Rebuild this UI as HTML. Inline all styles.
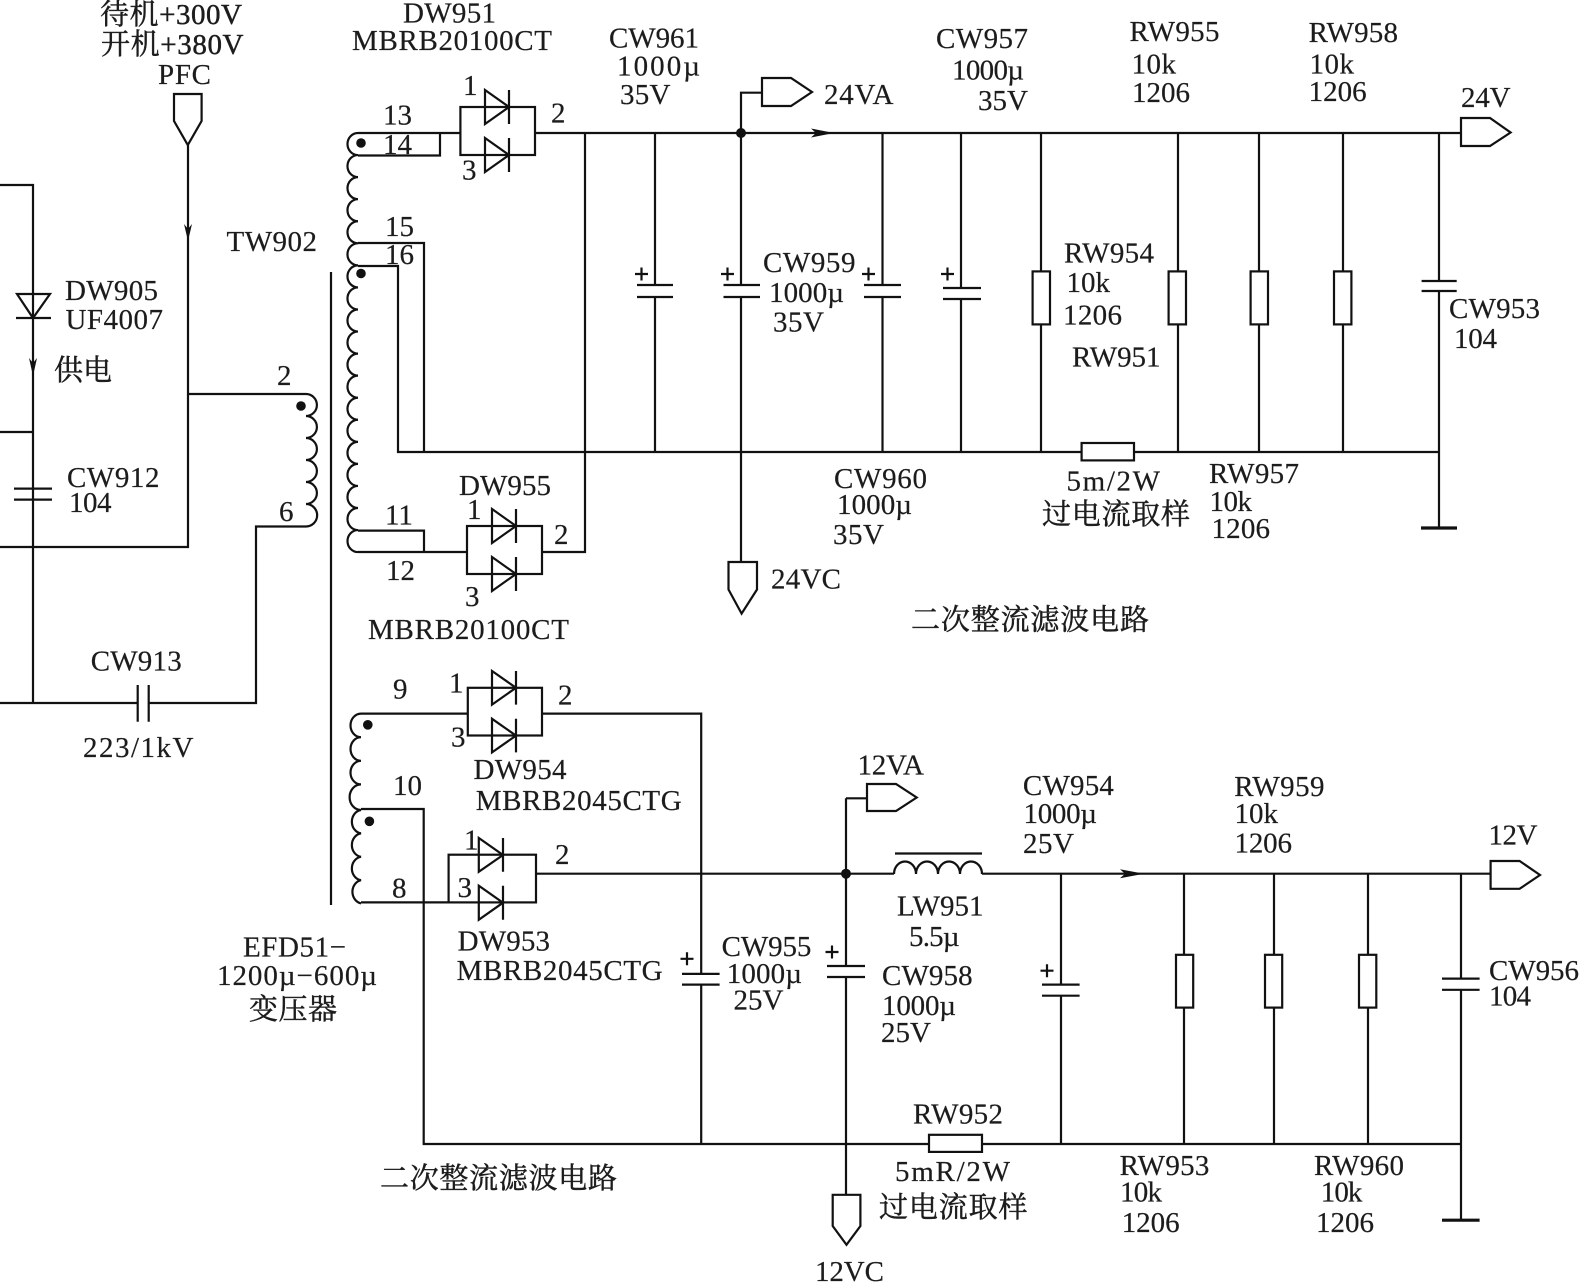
<!DOCTYPE html>
<html><head><meta charset="utf-8"><style>
html,body{margin:0;padding:0;background:#fff}
svg{display:block}
text{font-family:"Liberation Serif","Noto Serif CJK SC",serif;font-size:29px;fill:#1c1c1c;stroke:#1c1c1c;stroke-width:.2}
.c{stroke-width:.45}
path,line,rect,polyline,polygon.o{fill:none;stroke:#111;stroke-width:2.2}
polygon.f,circle{fill:#111;stroke:none}
</style></head><body>
<svg width="1580" height="1283" viewBox="0 0 1580 1283" xmlns="http://www.w3.org/2000/svg">
<rect x="0" y="0" width="1580" height="1283" style="fill:#fff;stroke:none"/>
<!-- left / primary -->
<path d="M0 185H33V703M0 432H33M0 547H188V145M188 394H306M0 703H137.700M148.700 703H256V526.500H306"/>
<polygon class="o" points="174,94 201.600,94 201.600,121 187.800,145 174,121"/>
<polygon class="f" points="188,241 184,224 188,229 192,224"/>
<polygon class="f" points="33,376 29,358 33,363 37,358"/>
<path d="M17 294H50L33 318ZM16 318H51"/>
<path d="M14 488.600H52M14 499.600H52"/>
<path d="M137.700 685V721.700M148.700 685V721.700"/>
<path d="M306 394a10.900 11 0 0 1 0 22a10.900 11 0 0 1 0 22a10.900 11 0 0 1 0 22a10.900 11 0 0 1 0 22a10.900 11 0 0 1 0 22a10.900 11 0 0 1 0 22.500"/>
<circle cx="301" cy="406" r="4.800"/>
<line x1="331" y1="272" x2="331" y2="905"/>
<!-- upper secondary -->
<path d="M358 133a10.500 11 0 0 0 0 22.060a10.500 11 0 0 0 0 22.060a10.500 11 0 0 0 0 22.060a10.500 11 0 0 0 0 22.060a10.500 11 0 0 0 0 22.060a10.500 11 0 0 0 0 22.060a10.500 11 0 0 0 0 22.060a10.500 11 0 0 0 0 22.060a10.500 11 0 0 0 0 22.060a10.500 11 0 0 0 0 22.060a10.500 11 0 0 0 0 22.060a10.500 11 0 0 0 0 22.060a10.500 11 0 0 0 0 22.060a10.500 11 0 0 0 0 22.060a10.500 11 0 0 0 0 22.060a10.500 11 0 0 0 0 22.060a10.500 11 0 0 0 0 22.060a10.500 11 0 0 0 0 22.060a10.500 11 0 0 0 0 22"/>
<circle cx="361" cy="143" r="4.800"/><circle cx="361" cy="273.500" r="4.800"/>
<path d="M358 133H460.400M358 155.500H440V133M358 243H424V452M358 266H398V452H1081.600M1134 452H1439M358 530.600H424V552M358 552H467"/>
<rect x="460.400" y="107" width="74.600" height="48"/>
<path d="M485 90V124L509 107ZM509 90V124M485 138V172L509 155ZM509 138V172"/>
<rect x="467" y="526" width="75" height="48"/>
<path d="M492 509V543L516 526ZM516 509V543M492 557V591L516 574ZM516 557V591"/>
<path d="M535 133H1461M585 133V552H542"/>
<circle cx="741" cy="133" r="5"/>
<polygon class="f" points="834,133 811,128.500 816,133 811,137.500"/>
<path d="M762 92.700H741V285M741 297V562"/>
<polygon class="o" points="762,78 791,78 812,92 791,106 762,106"/>
<polygon class="o" points="728.500,562 757,562 757,589.500 741.600,613.600 728.500,589.500"/>
<polygon class="o" points="1461,118 1490,118 1510.600,132.500 1490,146 1461,146"/>
<!-- upper caps: wires with gaps -->
<path d="M655 133V285M655 297V452M637 285H673M637 297H673M723.500 285H760M723.500 297H760M882.500 133V285M882.500 297V452M864 285H901M864 297H901M961 133V288M961 299V452M943 288H981M943 299H981"/>
<path d="M635 274h13M641.500 267.500v13M721 274h13M727.500 267.500v13M862 274h13M868.500 267.500v13M941 274h13M947.500 267.500v13"/>
<path d="M1041 133V271.400M1041 324.500V452M1178 133V271.400M1178 324.500V452M1259 133V271.400M1259 324.500V452M1343 133V271.400M1343 324.500V452"/>
<rect x="1032.600" y="271.400" width="17.400" height="53"/>
<rect x="1168.600" y="271.400" width="17.400" height="53"/>
<rect x="1250.600" y="271.400" width="17.400" height="53"/>
<rect x="1334" y="271.400" width="17.400" height="53"/>
<rect x="1081.600" y="443" width="52.400" height="17.400"/>
<path d="M1439 133V281M1439 291V528M1421.600 281H1456.700M1421.600 291H1456.700"/>
<path d="M1421 528H1457" style="stroke-width:3.200"/>
<!-- lower secondary -->
<path d="M361 713.600a10.500 11.800 0 0 0 0 23.600a10.500 11.800 0 0 0 0 23.600a10.500 11.800 0 0 0 0 23.600a10.500 11.800 0 0 0 0 25.600a10.500 11.800 0 0 0 0 23.400a10.500 11.800 0 0 0 0 23.400a10.500 11.800 0 0 0 0 23.400a10.500 11.800 0 0 0 0 23.200"/>
<circle cx="367.800" cy="724.800" r="4.800"/><circle cx="369.400" cy="821.300" r="4.800"/>
<path d="M361 713.600H467.800M361 809H423.700V1144H929M361 902.400H448.600M542 713.600H701.200V973.900M701.200 984.600V1144"/>
<rect x="467.800" y="687.800" width="74.200" height="47.700"/>
<path d="M492 671V704.600L516 687.800ZM516 671V704.600M492 718.800V752.400L516 735.600ZM516 718.800V752.400"/>
<rect x="448.600" y="854.700" width="87.400" height="47.700"/>
<path d="M478.800 838V871.800L503 855ZM503 838V871.800M478.800 885.700V919.800L503 902.700ZM503 885.700V919.800"/>
<path d="M536 873.700H894"/>
<circle cx="846" cy="873.700" r="5"/>
<path d="M846 798.300V966M846 977V1194.800M846 798.300H867"/>
<polygon class="o" points="867,784 896,784 916.700,797.500 896,811 867,811"/>
<polygon class="o" points="832.700,1194.800 860.400,1194.800 860.400,1226 846.500,1244.800 832.700,1226"/>
<path d="M894 874a11 12.500 0 0 1 22 0a11 12.500 0 0 1 22 0a11 12.500 0 0 1 22 0a11 12.500 0 0 1 22 0"/>
<path d="M895 853.500H982"/>
<path d="M982 873.700H1490.600"/>
<polygon class="f" points="1144,873.700 1120,869.200 1125,873.700 1120,878.200"/>
<polygon class="o" points="1490.600,861 1519.600,861 1540,875 1519.600,888.800 1490.600,888.800"/>
<path d="M682 973.900H719.600M682 984.600H719.600M827 966H865M827 977H865"/>
<path d="M680.500 958.800h13M687 952.300v13M825.500 952h13M832 945.500v13M1040.500 970.700h13M1047 964.200v13"/>
<path d="M1061 873.700V984.600M1061 995.700V1144M1042 984.600H1079.600M1042 995.700H1079.600"/>
<path d="M1184 873.700V954.800M1184 1007.600V1144M1274 873.700V954.800M1274 1007.600V1144M1368 873.700V954.800M1368 1007.600V1144"/>
<rect x="1176" y="954.800" width="17.200" height="52.800"/>
<rect x="1265" y="954.800" width="17.200" height="52.800"/>
<rect x="1359" y="954.800" width="17.300" height="52.800"/>
<rect x="929" y="1134.800" width="53" height="17.100"/>
<path d="M982 1144H1461M1461 873.700V978.600M1461 989.800V1220.200M1442 978.600H1479.600M1442 989.800H1479.600"/>
<path d="M1442 1220.200H1479.600" style="stroke-width:3.200"/>
<!-- labels -->
<text class="c" x="100" y="24" textLength="142">待机+300V</text>
<text class="c" x="101" y="54" textLength="142.500">开机+380V</text>
<text x="158" y="84" textLength="53">PFC</text>
<text x="403" y="22.500" textLength="93">DW951</text>
<text x="352" y="50" textLength="200">MBRB20100CT</text>
<text x="463" y="95">1</text>
<text x="383" y="124.500">13</text>
<text x="383" y="154">14</text>
<text x="551" y="122.500">2</text>
<text x="462" y="179.600">3</text>
<text x="226.500" y="251" textLength="90.500">TW902</text>
<text x="385" y="236">15</text>
<text x="385" y="264">16</text>
<text x="65" y="300" textLength="93">DW905</text>
<text x="65.500" y="329" textLength="97.500">UF4007</text>
<text class="c" x="54" y="380" textLength="58">供电</text>
<text x="277" y="385">2</text>
<text x="67" y="487" textLength="92.500">CW912</text>
<text x="69" y="512" textLength="42.500">104</text>
<text x="279" y="521">6</text>
<text x="459" y="495" textLength="92">DW955</text>
<text x="467" y="519">1</text>
<text x="554" y="544">2</text>
<text x="385" y="524.500">11</text>
<text x="386" y="580">12</text>
<text x="465" y="606">3</text>
<text x="368" y="639" textLength="201">MBRB20100CT</text>
<text x="90.700" y="670.700" textLength="91">CW913</text>
<text x="83" y="757" textLength="110.500">223/1kV</text>
<text x="243" y="956.700" textLength="103">EFD51−</text>
<text x="217" y="985" textLength="160">1200µ−600µ</text>
<text class="c" x="249" y="1019" textLength="88">变压器</text>
<text x="609" y="47.500" textLength="90">CW961</text>
<text x="617" y="75.500" textLength="83">1000µ</text>
<text x="620" y="104" textLength="50.500">35V</text>
<text x="824" y="104" textLength="69.500">24VA</text>
<text x="936" y="47.800" textLength="92">CW957</text>
<text x="952" y="79.600" textLength="72">1000µ</text>
<text x="978" y="110" textLength="50">35V</text>
<text x="1129.500" y="41" textLength="90">RW955</text>
<text x="1131.500" y="73.500" textLength="44.500">10k</text>
<text x="1132" y="102" textLength="58">1206</text>
<text x="1308.600" y="42" textLength="89.400">RW958</text>
<text x="1309.500" y="73.500" textLength="44.500">10k</text>
<text x="1308.600" y="101" textLength="58">1206</text>
<text x="1461" y="107" textLength="49.600">24V</text>
<text x="1064" y="262.400" textLength="90">RW954</text>
<text x="1066.500" y="292" textLength="43.500">10k</text>
<text x="1063" y="324.500" textLength="59">1206</text>
<text x="1072" y="366.500" textLength="88.500">RW951</text>
<text x="1449" y="318" textLength="91">CW953</text>
<text x="1454" y="348" textLength="43">104</text>
<text x="1066.500" y="490.600" textLength="93.500">5m/2W</text>
<text class="c" x="1042" y="524" textLength="148">过电流取样</text>
<text x="1209" y="483" textLength="90">RW957</text>
<text x="1209.500" y="511" textLength="42.500">10k</text>
<text x="1211.500" y="538" textLength="58.500">1206</text>
<text class="c" x="911" y="629.500" textLength="238">二次整流滤波电路</text>
<text x="763" y="272" textLength="92.500">CW959</text>
<text x="769" y="302" textLength="75">1000µ</text>
<text x="773" y="331.500" textLength="51">35V</text>
<text x="834" y="488" textLength="93">CW960</text>
<text x="837" y="514" textLength="75">1000µ</text>
<text x="833" y="544" textLength="51">35V</text>
<text x="771" y="588.500" textLength="70">24VC</text>
<text x="393" y="698.500">9</text>
<text x="449" y="692.600">1</text>
<text x="558" y="704.500">2</text>
<text x="451" y="746.600">3</text>
<text x="473.500" y="779" textLength="93">DW954</text>
<text x="475.700" y="809.800" textLength="206">MBRB2045CTG</text>
<text x="393" y="795">10</text>
<text x="857.500" y="774.400" textLength="66.500">12VA</text>
<text x="464" y="849.500">1</text>
<text x="555" y="863.800">2</text>
<text x="392" y="897.600">8</text>
<text x="457.500" y="897.200">3</text>
<text x="897" y="915.500" textLength="86.500">LW951</text>
<text x="909" y="946" textLength="50.600">5.5µ</text>
<text x="457.600" y="950.400" textLength="92.400">DW953</text>
<text x="456.600" y="980.200" textLength="206">MBRB2045CTG</text>
<text x="721.600" y="956" textLength="89.800">CW955</text>
<text x="726.800" y="983" textLength="75.200">1000µ</text>
<text x="733.500" y="1009.600" textLength="50">25V</text>
<text x="882" y="985" textLength="90.600">CW958</text>
<text x="882" y="1014.800" textLength="74">1000µ</text>
<text x="881" y="1042" textLength="50">25V</text>
<text class="c" x="380" y="1188" textLength="237">二次整流滤波电路</text>
<text x="913" y="1123.600" textLength="90">RW952</text>
<text x="895" y="1181" textLength="115">5mR/2W</text>
<text class="c" x="879" y="1217" textLength="148.500">过电流取样</text>
<text x="815" y="1281" textLength="69">12VC</text>
<text x="1022.900" y="795" textLength="91">CW954</text>
<text x="1023.500" y="823" textLength="73.500">1000µ</text>
<text x="1023" y="853" textLength="51">25V</text>
<text x="1234.200" y="796" textLength="90.300">RW959</text>
<text x="1234.500" y="823" textLength="43.500">10k</text>
<text x="1234.500" y="852.700" textLength="57.500">1206</text>
<text x="1488.500" y="844.700" textLength="49">12V</text>
<text x="1489" y="979.800" textLength="90">CW956</text>
<text x="1489" y="1005.600" textLength="42">104</text>
<text x="1119.600" y="1175" textLength="89.800">RW953</text>
<text x="1120" y="1201.500" textLength="42">10k</text>
<text x="1121.700" y="1232" textLength="57.900">1206</text>
<text x="1314" y="1175" textLength="90">RW960</text>
<text x="1320.800" y="1201.500" textLength="41.600">10k</text>
<text x="1316" y="1232" textLength="58">1206</text>
</svg>
</body></html>
